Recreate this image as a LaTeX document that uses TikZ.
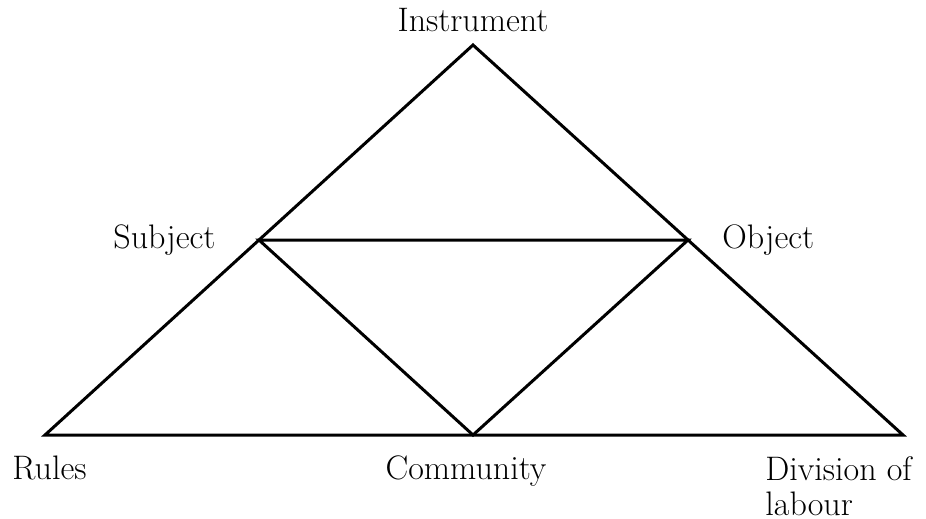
\documentclass[tikz,border=0pt]{standalone}
\usetikzlibrary{positioning,calc}
\tikzset{
  side/.style={line width=1.5pt, line join=miter, color=black},
  lbl/.style={inner sep=0pt, font=\fontsize{17}{17.5}\selectfont, align=left},
}
\begin{document}
\begin{tikzpicture}[x=0.5pt, y=-0.5pt]
  \useasboundingbox (0,0) rectangle (926,519);
  % corners of the activity triangle
  \coordinate (apex) at (473,45);
  \coordinate (rul) at (45,435);
  \coordinate (div) at (903,435);
  \coordinate (subj) at ($(rul)!0.5!(apex)$);
  \coordinate (obj) at ($(div)!0.5!(apex)$);
  \coordinate (comm) at (473,435);
  \draw[side] (rul) -- (apex) -- (div) -- cycle;
  \draw[side] (subj) -- (obj) -- (comm) -- cycle;
  % labels
  \node[lbl, anchor=base] (instrlbl) at (473,32) {Instrument};
  \node[lbl, anchor=base west] (subjlbl) at (113,248) {Subject};
  \node[lbl, anchor=base west] (objlbl) at (722,248) {Object};
  \node[lbl, anchor=base west] (rullbl) at (12,479) {Rules};
  \node[lbl, anchor=base] (commlbl) at (466,479) {Community};
  \node[lbl, anchor=north west] (divlbl) at (765,456) {Division of\\labour};
\end{tikzpicture}
\end{document}
